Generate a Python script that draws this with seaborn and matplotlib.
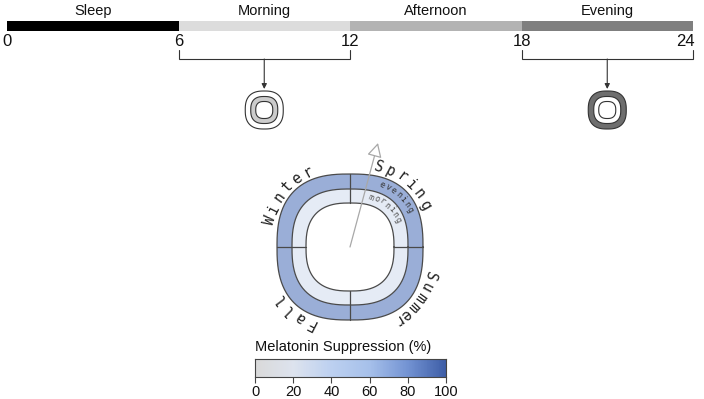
import numpy as np
import matplotlib
matplotlib.use("Agg")
import matplotlib.pyplot as plt
from matplotlib.patches import Polygon, Rectangle, FancyArrowPatch
import seaborn as sns

sns.set_theme(style="white")
plt.rcParams["font.family"] = ["Liberation Sans", "DejaVu Sans"]

# ---------------- data ----------------
periods = ["Sleep", "Morning", "Afternoon", "Evening"]
period_bounds = [0, 6, 12, 18, 24]
period_colors = ["#000000", "#dcdcdc", "#b3b3b3", "#7f7f7f"]
hour_ticks = [0, 6, 12, 18, 24]
seasons = ["Spring", "Winter", "Fall", "Summer"]          # quadrants, CCW from 0 deg
morning_suppression = [26, 26, 26, 26]
evening_suppression = [90, 90, 90, 90]
cbar_ticks = [0, 20, 40, 60, 80, 100]
cbar_label = "Melatonin Suppression (%)"

cmap = sns.blend_palette(["#d9d9d9", "#dde3ee", "#bcd0f0", "#a6c0ea", "#7393d3", "#3d5da6"],
                         as_cmap=True)

# ---------------- figure ----------------
W, H = 704, 399
fig = plt.figure(figsize=(W / 100, H / 100), dpi=100)
ax = fig.add_axes([0, 0, 1, 1])
ax.set_xlim(0, W)
ax.set_ylim(H, 0)
ax.axis("off")

X0, X1 = 7, 693
def hx(h):
    return X0 + (X1 - X0) * h / 24.0

# timeline bar
for name, a, b, c in zip(periods, period_bounds[:-1], period_bounds[1:], period_colors):
    ax.add_patch(Rectangle((hx(a), 21), hx(b) - hx(a), 10, color=c, lw=0))
    ax.text((hx(a) + hx(b)) / 2, 15, name, ha="center", va="baseline", fontsize=10.5, color="#111")
for h in hour_ticks:
    ha = "center"
    x = hx(h)
    if h == hour_ticks[-1]:
        ha, x = "right", hx(h) + 2
    ax.text(x, 46, str(h), ha=ha, va="baseline", fontsize=12, color="#111")

# ---------------- shapes ----------------
NEXP = 2.6

def pt(cx, cy, R, th_deg, n=NEXP):
    th = np.radians(th_deg)
    c, s = np.cos(th), np.sin(th)
    r = R / (np.abs(c) ** n + np.abs(s) ** n) ** (1.0 / n)
    return cx + r * c, cy - r * s

def closed(cx, cy, R, n=NEXP):
    t = np.linspace(0, 360, 361)
    x, y = pt(cx, cy, R, t, n)
    return np.column_stack([x, y])

def band(cx, cy, R_out, R_in, a0, a1, n=NEXP):
    t = np.linspace(a0, a1, 80)
    xo, yo = pt(cx, cy, R_out, t, n)
    xi, yi = pt(cx, cy, R_in, t[::-1], n)
    return np.column_stack([np.r_[xo, xi], np.r_[yo, yi]])

# brackets + icons
def bracket(a, b):
    xa, xb = hx(a), hx(b)
    ax.plot([xa, xa, xb, xb], [50, 59, 59, 50], color="#333", lw=0.8, solid_joinstyle="miter")
    xm = (xa + xb) / 2
    ax.add_patch(FancyArrowPatch((xm, 59), (xm, 89), arrowstyle="-|>,head_length=3,head_width=1.5",
                                 color="#333", lw=0.8, shrinkA=0, shrinkB=0))
    return xm

def icon(cx, cy, fills):
    for R, fc in zip([19, 13.5, 8.5], fills):
        ax.add_patch(Polygon(closed(cx, cy, R), closed=True, fc=fc, ec="#333", lw=0.8))

xm = bracket(6, 12)
icon(xm, 110, ["white", "#cccccc", "white"])
xe = bracket(18, 24)
icon(xe, 110, ["#6e6e6e", "white", "white"])

# main seasonal ring
CX, CY = 350, 247
R_OUT, R_MID, R_IN = 73, 58, 44
quadrants = [(0, 90), (90, 180), (180, 270), (270, 360)]
alpha = 0.6

def col(v):
    rgb = np.array(cmap(v / 100.0)[:3])
    return tuple(alpha * rgb + (1 - alpha))

for (a0, a1), m, e in zip(quadrants, morning_suppression, evening_suppression):
    ax.add_patch(Polygon(band(CX, CY, R_OUT, R_MID, a0, a1), closed=True, fc=col(e), ec="none"))
    ax.add_patch(Polygon(band(CX, CY, R_MID, R_IN, a0, a1), closed=True, fc=col(m), ec="none"))
for R in (R_OUT, R_MID, R_IN):
    p = closed(CX, CY, R)
    ax.plot(p[:, 0], p[:, 1], color="#4a4a4a", lw=0.9)
for a in (0, 90, 180, 270):
    x0, y0 = pt(CX, CY, R_IN, a)
    x1, y1 = pt(CX, CY, R_OUT, a)
    ax.plot([x0, x1], [y0, y1], color="#4a4a4a", lw=0.9)

# arrow
ax.add_patch(FancyArrowPatch((CX, CY), (378, 143),
                             arrowstyle="-|>,head_length=8.5,head_width=4.5",
                             fc="white", ec="#a8a8a8", lw=0.9, shrinkA=0, shrinkB=0, zorder=5))

# curved labels
def curved(text, start, step, R, n, size, color, cx=CX, cy=CY):
    for i, ch in enumerate(text):
        th = start + i * step
        x, y = pt(cx, cy, R, th, n)
        ax.text(x, y, ch, rotation=th - 90, rotation_mode="anchor", ha="center", va="center",
                fontsize=size, family="DejaVu Sans Mono", color=color, zorder=6)

season_layout = {"Spring": (70, -8.1), "Winter": (162, -8.6), "Fall": (-117, -8.8), "Summer": (-20, -7.6)}
for s in seasons:
    st, sp = season_layout[s]
    curved(s, st, sp, 83, 2.3, 10.5, "#222")

curved("evening", 63, -5.2, 66, NEXP, 6, "#333")
curved("morning", 67, -6.2, 51.5, NEXP, 6, "#555")

# ---------------- colorbar ----------------
ax.text(343, 351, cbar_label, ha="center", va="baseline", fontsize=10.5, color="#111")
cax = fig.add_axes([255 / W, 1 - 377 / H, 191 / W, 18 / H])
grad = np.linspace(0, 100, 256)[None, :]
sns.heatmap(grad, cmap=cmap, vmin=0, vmax=100, cbar=False, ax=cax,
            xticklabels=False, yticklabels=False)
for sp in cax.spines.values():
    sp.set_visible(True)
    sp.set_color("#444")
    sp.set_linewidth(0.8)
cax.set_xticks([v / 100 * 256 for v in cbar_ticks])
cax.set_xticklabels([str(v) for v in cbar_ticks], fontsize=10.5, color="#111", rotation=0)
cax.tick_params(axis="x", bottom=True, length=4, width=0.8, color="#444", pad=1.5)
cax.set_yticks([])

fig.savefig("out.png", dpi=100, facecolor="white")
